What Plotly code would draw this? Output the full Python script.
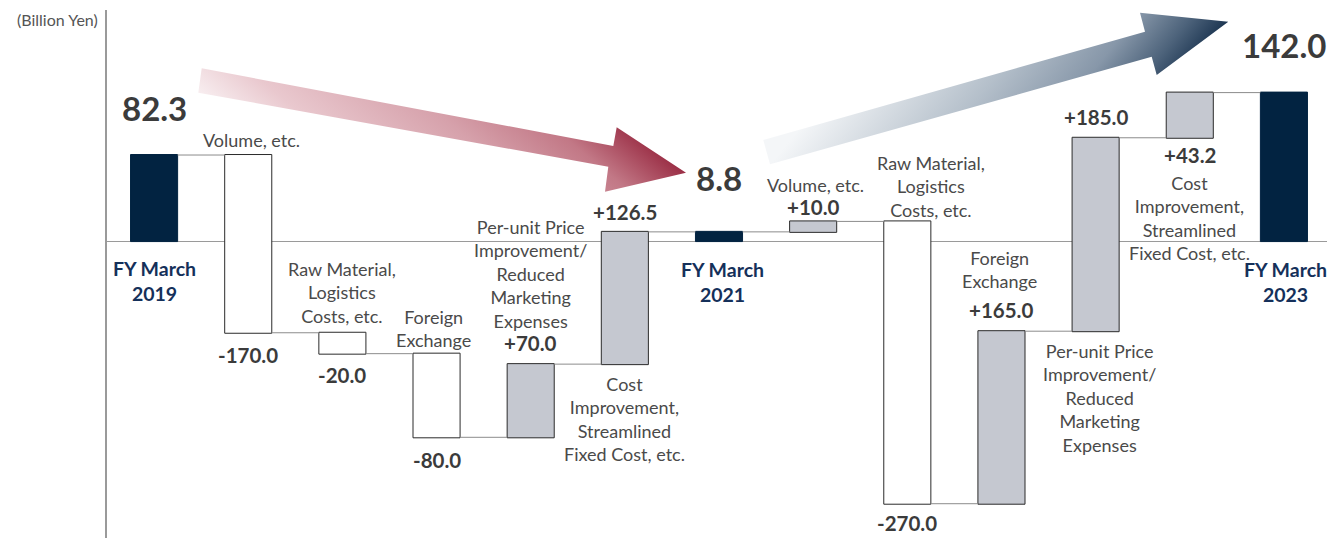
import base64
import plotly.graph_objects as go

# ---------------- data ----------------
categories = [
    "FY March<br>2019",
    "Volume, etc.",
    "Raw Material,<br>Logistics<br>Costs, etc.",
    "Foreign<br>Exchange",
    "Per-unit Price<br>Improvement/<br>Reduced<br>Marketing<br>Expenses",
    "Cost<br>Improvement,<br>Streamlined<br>Fixed Cost, etc.",
    "FY March<br>2021",
    "Volume, etc.",
    "Raw Material,<br>Logistics<br>Costs, etc.",
    "Foreign<br>Exchange",
    "Per-unit Price<br>Improvement/<br>Reduced<br>Marketing<br>Expenses",
    "Cost<br>Improvement,<br>Streamlined<br>Fixed Cost, etc.",
    "FY March<br>2023",
]
values = [82.3, -170.0, -20.0, -80.0, 70.0, 126.5, 8.8, 10.0, -270.0, 165.0, 185.0, 43.2, 142.0]
measures = ["absolute", "relative", "relative", "relative", "relative", "relative", "total",
            "relative", "relative", "relative", "relative", "relative", "total"]
value_labels = ["82.3", "-170.0", "-20.0", "-80.0", "+70.0", "+126.5", "8.8",
                "+10.0", "-270.0", "+165.0", "+185.0", "+43.2", "142.0"]
unit_label = "(Billion Yen)"

# ---------------- levels (for label anchoring) ----------------
starts, ends = [], []
level = 0.0
for v, m in zip(values, measures):
    if m == "absolute":
        s, e = 0.0, v
        level = v
    elif m == "total":
        s, e = 0.0, level
    else:
        s, e = level, level + v
        level = e
    starts.append(s)
    ends.append(e)
his = [max(a, b) for a, b in zip(starts, ends)]
los = [min(a, b) for a, b in zip(starts, ends)]

# ---------------- styles ----------------
NAVY = "#022341"
GREY_BAR = "#c5c8d0"
NUM_COL = "#3b3b3b"
LAB_COL = "#4a4a4a"
FY_COL = "#15305a"
FONT = "Lato"

x_idx = list(range(len(values)))

fig = go.Figure(go.Waterfall(
    x=x_idx,
    y=values,
    measure=measures,
    width=0.5,
    increasing=dict(marker=dict(color=GREY_BAR, line=dict(color="#2b2b2b", width=1))),
    decreasing=dict(marker=dict(color="white", line=dict(color="#2b2b2b", width=1))),
    totals=dict(marker=dict(color=NAVY, line=dict(color=NAVY, width=1))),
    connector=dict(line=dict(color="#8c8c8c", width=1)),
    textposition="none",
    hoverinfo="skip",
))

# label placement: (reference, pixel shift, x offset in categories)
cat_place = [
    ("zero", -40, 0.0), ("hi", 15, 0.03), ("hi", 40, 0.0), ("hi", 25, -0.03),
    ("hi", 90, 0.0), ("lo", -55, 0.0), ("zero", -41, 0.04), ("hi", 36, 0.02),
    ("hi", 35, 0.25), ("hi", 62, -0.02), ("lo", -67, 0.04), ("lo", -80, 0.0),
    ("zero", -41, 0.02),
]
val_place = [
    ("hi", 47), ("lo", -22), ("lo", -21), ("lo", -23), ("hi", 21), ("hi", 20),
    ("hi", 54), ("hi", 14), ("lo", -19), ("hi", 21), ("hi", 21), ("lo", -17), ("hi", 48),
]

def ref_value(i, ref):
    if ref == "hi":
        return his[i]
    if ref == "lo":
        return los[i]
    return 0.0

annotations = []
for i, (cat, (ref, shift, dx)) in enumerate(zip(categories, cat_place)):
    is_fy = measures[i] != "relative"
    annotations.append(dict(
        x=i + dx, y=ref_value(i, ref), yshift=shift, xref="x", yref="y",
        text=f"<b>{cat}</b>" if is_fy else cat, showarrow=False,
        xanchor="center", yanchor="middle", align="center",
        font=dict(family=FONT, size=19.5 if is_fy else 18, color=FY_COL if is_fy else LAB_COL),
    ))
for i, (lab, (ref, shift)) in enumerate(zip(value_labels, val_place)):
    big = measures[i] != "relative"
    annotations.append(dict(
        x=i, y=ref_value(i, ref), yshift=shift, xref="x", yref="y",
        text=f"<b>{lab}</b>", showarrow=False, xanchor="center", yanchor="middle",
        font=dict(family=FONT, size=33 if big else 20.5, color=NUM_COL),
    ))
annotations.append(dict(
    x=0, y=1, xref="paper", yref="paper", xanchor="right", yanchor="middle",
    xshift=-7, yshift=-9, text=unit_label, showarrow=False,
    font=dict(family=FONT, size=16, color="#555555"),
))

# ---------------- decorative gradient arrows (SVG overlay in plot-area pixels) ----------------
svg = """<svg xmlns='http://www.w3.org/2000/svg' viewBox='107 10 1224 528' width='1224' height='528' preserveAspectRatio='none'>
<defs>
<linearGradient id='rg' gradientUnits='userSpaceOnUse' x1='198' y1='93' x2='358.7' y2='-99.8'>
<stop offset='0' stop-color='#f8eef0'/>
<stop offset='0.2' stop-color='#e9c8ce'/>
<stop offset='0.55' stop-color='#d6a1ab'/>
<stop offset='0.8' stop-color='#c27886'/>
<stop offset='1' stop-color='#9b2f46'/>
</linearGradient>
<linearGradient id='bg' gradientUnits='userSpaceOnUse' x1='770' y1='165' x2='980' y2='333'>
<stop offset='0' stop-color='#f4f6f8'/>
<stop offset='0.45' stop-color='#b4bfca'/>
<stop offset='0.72' stop-color='#8797a9'/>
<stop offset='0.88' stop-color='#4d637b'/>
<stop offset='1' stop-color='#1c3551'/>
</linearGradient>
</defs>
<polygon fill='url(#rg)' points='201.7,68.3 613.3,146 616.7,127.3 686,172.7 605,191.7 608.3,166.7 198.3,92.7'/>
<polygon fill='url(#bg)' points='763.3,140 1145,31.7 1140,12.7 1228.3,21.7 1156.7,75 1151.7,56.7 770,164.3'/>
</svg>"""
src = "data:image/svg+xml;base64," + base64.b64encode(svg.encode("utf-8")).decode("ascii")

# page body has an 8px default margin: size the figure so the plot area lands at the reference spot
fig.update_layout(
    width=1327, height=530,
    margin=dict(l=99, r=4, t=2, b=0),
    paper_bgcolor="white", plot_bgcolor="white",
    showlegend=False,
    xaxis=dict(range=[-0.5, 12.5], showticklabels=False, showgrid=False, zeroline=False,
               showline=False, ticks=""),
    yaxis=dict(range=[-284, 221], showticklabels=False, showgrid=False,
               zeroline=True, zerolinecolor="#9a9a9a", zerolinewidth=1,
               showline=True, linecolor="#9a9a9a", linewidth=1.5, ticks=""),
    annotations=annotations,
    images=[dict(source=src, xref="paper", yref="paper", x=0, y=1, sizex=1, sizey=1,
                 xanchor="left", yanchor="top", sizing="stretch", layer="above")],
)

fig.write_html("out.html")
